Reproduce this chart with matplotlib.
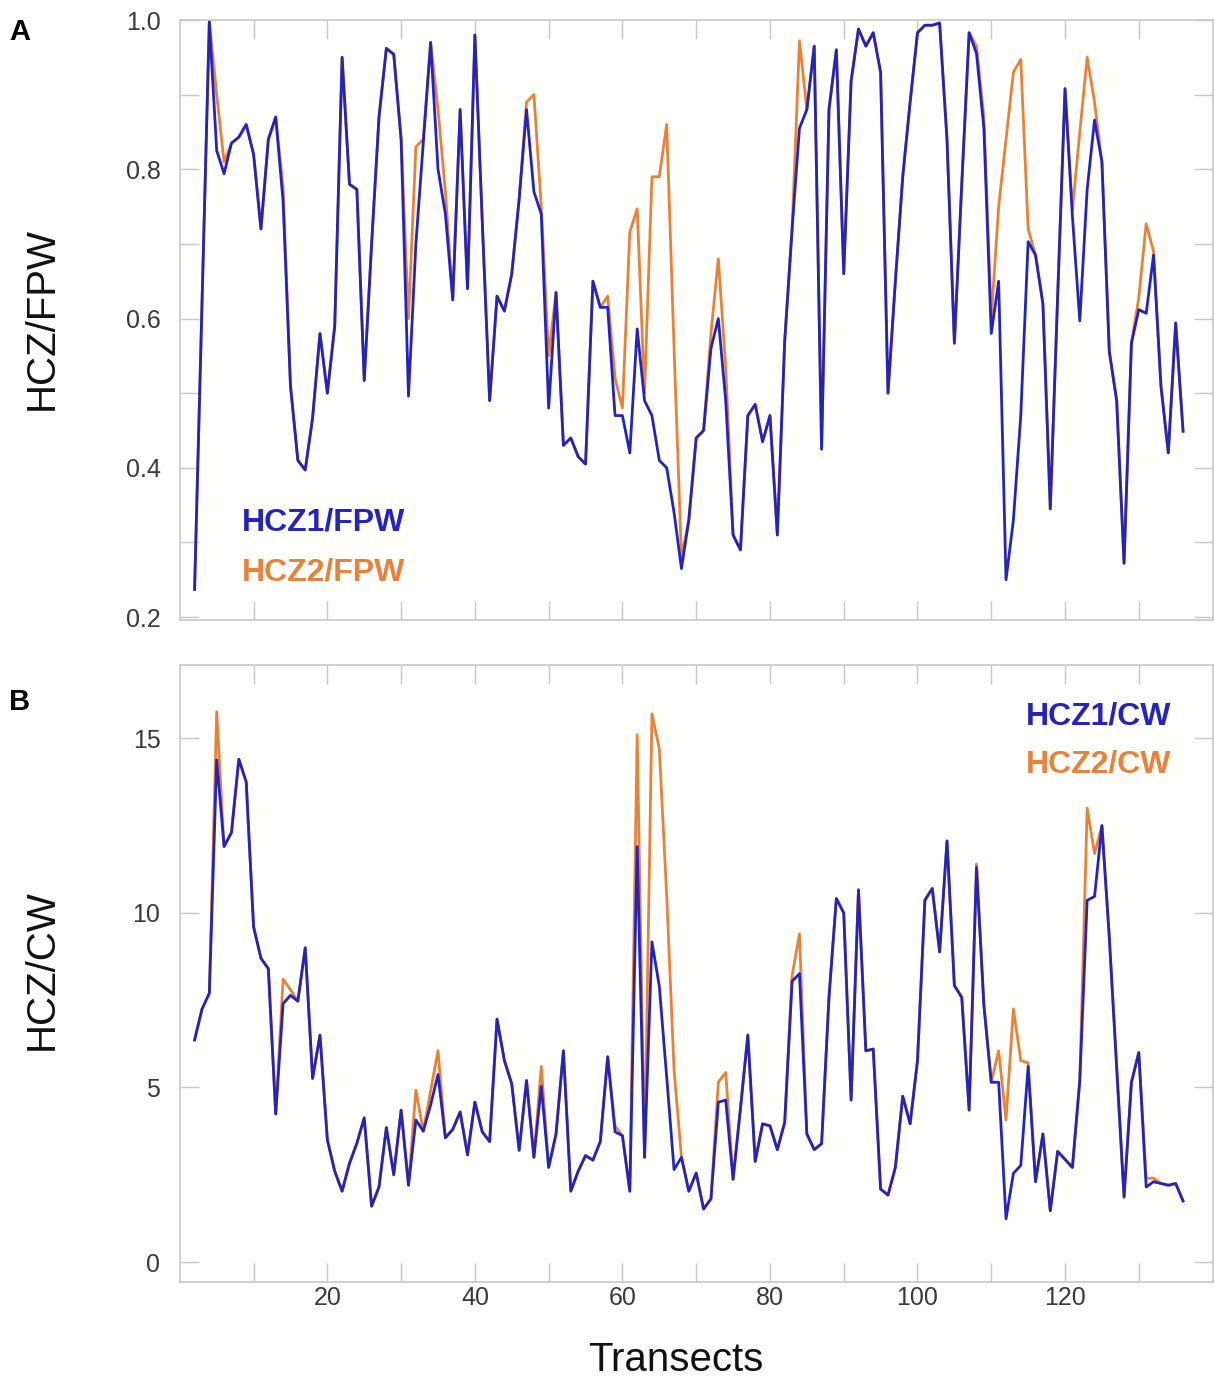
import matplotlib
matplotlib.use("Agg")
import matplotlib.pyplot as plt
from matplotlib.ticker import MultipleLocator, FixedLocator

plt.rcParams['font.family'] = ['Liberation Sans', 'DejaVu Sans']

# transect numbers (both panels)
transects = list(range(2, 137))

# Panel A: HCZ/FPW ratios, transects 2..136
hcz1_fpw = [0.237, 0.62, 0.998, 0.825, 0.794, 0.835, 0.843, 0.86, 0.82, 0.72,
            0.84, 0.87, 0.757, 0.51, 0.41, 0.397, 0.467, 0.58, 0.50, 0.59,
            0.95, 0.78, 0.773, 0.517, 0.70, 0.87, 0.962, 0.954, 0.84, 0.496,
            0.70, 0.835, 0.97, 0.80, 0.74, 0.625, 0.88, 0.64, 0.98, 0.73,
            0.49, 0.63, 0.61, 0.66, 0.76, 0.88, 0.77, 0.74, 0.48, 0.635,
            0.43, 0.44, 0.415, 0.405, 0.65, 0.615, 0.615, 0.47, 0.47, 0.42,
            0.586, 0.49, 0.47, 0.41, 0.40, 0.34, 0.265, 0.33, 0.44, 0.45,
            0.56, 0.60, 0.49, 0.31, 0.29, 0.47, 0.485, 0.435, 0.47, 0.31,
            0.57, 0.72, 0.855, 0.88, 0.965, 0.425, 0.88, 0.96, 0.66, 0.918,
            0.988, 0.965, 0.983, 0.93, 0.50, 0.65, 0.79, 0.89, 0.983, 0.993,
            0.993, 0.996, 0.84, 0.567, 0.78, 0.983, 0.955, 0.855, 0.58, 0.65,
            0.25, 0.33, 0.47, 0.703, 0.685, 0.62, 0.345, 0.63, 0.908, 0.737,
            0.597, 0.773, 0.866, 0.81, 0.556, 0.49, 0.272, 0.567, 0.612, 0.607,
            0.685, 0.51, 0.42, 0.594, 0.449]

hcz2_fpw = [0.237, 0.62, 0.998, 0.90, 0.81, 0.835, 0.843, 0.86, 0.82, 0.72,
            0.84, 0.87, 0.775, 0.51, 0.41, 0.397, 0.467, 0.58, 0.50, 0.59,
            0.95, 0.78, 0.773, 0.517, 0.70, 0.87, 0.962, 0.954, 0.84, 0.60,
            0.83, 0.84, 0.97, 0.88, 0.77, 0.625, 0.88, 0.64, 0.98, 0.73,
            0.49, 0.63, 0.61, 0.66, 0.76, 0.89, 0.90, 0.75, 0.55, 0.635,
            0.43, 0.44, 0.415, 0.405, 0.65, 0.615, 0.63, 0.52, 0.48, 0.716,
            0.747, 0.50, 0.79, 0.79, 0.86, 0.56, 0.28, 0.33, 0.44, 0.45,
            0.58, 0.68, 0.535, 0.31, 0.29, 0.47, 0.485, 0.435, 0.47, 0.31,
            0.57, 0.72, 0.972, 0.88, 0.965, 0.425, 0.88, 0.96, 0.66, 0.918,
            0.988, 0.965, 0.983, 0.93, 0.50, 0.65, 0.79, 0.89, 0.983, 0.993,
            0.993, 0.996, 0.84, 0.567, 0.78, 0.983, 0.965, 0.87, 0.60, 0.75,
            0.84, 0.93, 0.947, 0.72, 0.685, 0.62, 0.345, 0.63, 0.908, 0.745,
            0.85, 0.95, 0.89, 0.81, 0.556, 0.49, 0.272, 0.567, 0.628, 0.727,
            0.69, 0.51, 0.42, 0.594, 0.449]

# Panel B: HCZ/CW ratios, transects 2..136
hcz1_cw = [6.36, 7.24, 7.7, 14.38, 11.9, 12.3, 14.4, 13.75, 9.6, 8.7,
           8.4, 4.24, 7.4, 7.64, 7.47, 9.0, 5.26, 6.5, 3.5, 2.6,
           2.03, 2.83, 3.4, 4.13, 1.6, 2.15, 3.85, 2.5, 4.35, 2.2,
           4.07, 3.75, 4.5, 5.37, 3.56, 3.8, 4.3, 3.07, 4.58, 3.73,
           3.45, 6.96, 5.77, 5.1, 3.2, 5.2, 3.0, 5.03, 2.71, 3.67,
           6.05, 2.03, 2.6, 3.05, 2.92, 3.45, 5.88, 3.73, 3.62, 2.03,
           11.9, 3.0, 9.17, 7.9, 5.3, 2.65, 3.0, 2.03, 2.55, 1.52,
           1.81, 4.58, 4.64, 2.37, 4.4, 6.5, 2.88, 3.96, 3.9, 3.22,
           4.0, 8.04, 8.26, 3.67, 3.22, 3.39, 7.58, 10.41, 10.0, 4.64,
           10.66, 6.05, 6.1, 2.09, 1.92, 2.71, 4.75, 3.96, 5.77, 10.36,
           10.7, 8.88, 12.06, 7.92, 7.58, 4.35, 11.3, 7.36, 5.15, 5.15,
           1.24, 2.54, 2.77, 5.6, 2.3, 3.67, 1.47, 3.17, 2.94, 2.71,
           5.2, 10.36, 10.47, 12.5, 9.3, 5.6, 1.86, 5.15, 6.0, 2.15,
           2.3, 2.25, 2.2, 2.25, 1.75]

hcz2_cw = [6.36, 7.24, 7.7, 15.76, 11.9, 12.3, 14.4, 13.75, 9.6, 8.7,
           8.4, 4.24, 8.1, 7.8, 7.47, 9.0, 5.26, 6.5, 3.5, 2.6,
           2.03, 2.83, 3.4, 4.13, 1.6, 2.15, 3.85, 2.5, 4.35, 2.2,
           4.92, 3.75, 4.9, 6.05, 3.56, 3.8, 4.3, 3.07, 4.58, 3.73,
           3.45, 6.96, 5.77, 5.1, 3.2, 5.2, 3.0, 5.6, 2.71, 3.67,
           6.05, 2.03, 2.6, 3.05, 2.92, 3.45, 5.88, 3.9, 3.62, 2.03,
           15.1, 3.0, 15.7, 14.7, 10.5, 5.5, 3.0, 2.03, 2.55, 1.52,
           1.81, 5.15, 5.43, 2.37, 4.4, 6.5, 2.88, 3.96, 3.9, 3.22,
           4.0, 8.2, 9.4, 3.67, 3.22, 3.39, 7.58, 10.41, 10.0, 4.64,
           10.66, 6.05, 6.1, 2.09, 1.92, 2.71, 4.75, 3.96, 5.77, 10.36,
           10.7, 8.88, 12.06, 7.92, 7.58, 4.35, 11.4, 7.36, 5.15, 6.05,
           4.07, 7.25, 5.77, 5.7, 2.3, 3.67, 1.47, 3.17, 2.94, 2.71,
           5.2, 13.0, 11.7, 12.5, 9.3, 5.6, 1.86, 5.15, 6.0, 2.4,
           2.4, 2.25, 2.2, 2.25, 1.75]

x_major = [20, 40, 60, 80, 100, 120]
x_minor = [10, 30, 50, 70, 90, 110, 130]

blue = '#2424bd'
orange = '#e8823a'
frame = '#c9c9c4'
bg = '#fefefb'

fig = plt.figure(figsize=(12.15, 13.81), dpi=100, facecolor=bg)
axA = fig.add_axes([0.148, 0.551, 0.850, 0.4345])
axB = fig.add_axes([0.148, 0.0717, 0.850, 0.4468])

for ax in (axA, axB):
    ax.set_facecolor(bg)
    for s in ax.spines.values():
        s.set_color(frame)
        s.set_linewidth(1.2)
    ax.set_xlim(0, 140)
    ax.xaxis.set_major_locator(FixedLocator(x_major))
    ax.xaxis.set_minor_locator(FixedLocator(x_minor))
    ax.tick_params(which='both', direction='in', top=True, right=True,
                   color=frame, width=1.0, length=14,
                   labelsize=18, labelcolor='#3a3a3a')
    ax.tick_params(axis='y', pad=14)

# Panel A
axA.plot(transects, hcz2_fpw, color=orange, lw=2.0)
axA.plot(transects, hcz1_fpw, color=blue, lw=2.0)
axA.set_ylim(0.196, 1.0)
axA.yaxis.set_major_locator(MultipleLocator(0.2))
axA.yaxis.set_minor_locator(MultipleLocator(0.1))
axA.yaxis.set_major_formatter(plt.FuncFormatter(lambda v, p: f"{v:.1f}"))
axA.tick_params(axis='x', labelbottom=False)
axA.text(0.060, 0.163, 'HCZ1/FPW', transform=axA.transAxes, color=blue,
         fontsize=23, fontweight='bold', va='center', ha='left')
axA.text(0.060, 0.080, 'HCZ2/FPW', transform=axA.transAxes, color=orange,
         fontsize=23, fontweight='bold', va='center', ha='left')

# Panel B
axB.plot(transects, hcz2_cw, color=orange, lw=2.0)
axB.plot(transects, hcz1_cw, color=blue, lw=2.0)
axB.set_ylim(-0.57, 17.1)
axB.yaxis.set_major_locator(MultipleLocator(5))
axB.tick_params(axis='x', pad=3)
axB.text(0.960, 0.917, 'HCZ1/CW', transform=axB.transAxes, color=blue,
         fontsize=23, fontweight='bold', va='center', ha='right')
axB.text(0.960, 0.838, 'HCZ2/CW', transform=axB.transAxes, color=orange,
         fontsize=23, fontweight='bold', va='center', ha='right')

# axis titles and panel letters
fig.text(42 / 1215, 1 - 318 / 1381, 'HCZ/FPW', rotation=90, fontsize=29,
         ha='center', va='center', color='#111111')
fig.text(42 / 1215, 1 - 970 / 1381, 'HCZ/CW', rotation=90, fontsize=29,
         ha='center', va='center', color='#111111')
fig.text(676 / 1215, 1 - 1360 / 1381, 'Transects', fontsize=29,
         ha='center', va='center', color='#111111')
fig.text(20 / 1215, 1 - 32 / 1381, 'A', fontsize=21, fontweight='bold',
         ha='center', va='center')
fig.text(20 / 1215, 1 - 702 / 1381, 'B', fontsize=21, fontweight='bold',
         ha='center', va='center')

fig.savefig('out.png', dpi=100, facecolor=bg)
